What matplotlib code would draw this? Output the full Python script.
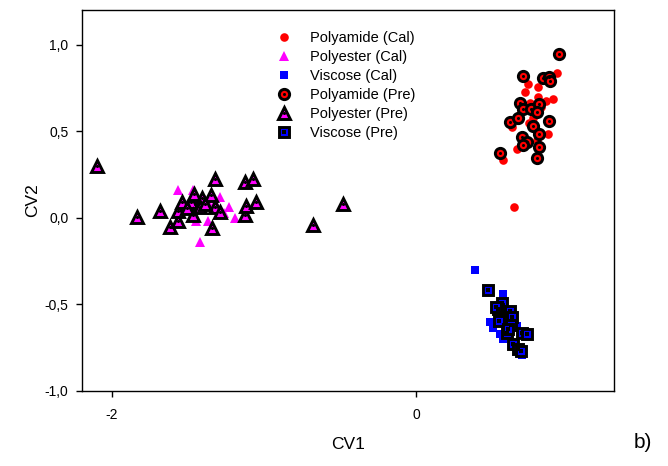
import matplotlib.pyplot as plt
from matplotlib.legend_handler import HandlerTuple
from matplotlib.ticker import FuncFormatter

plt.rcParams['font.family'] = ['Liberation Sans', 'DejaVu Sans']

# calibration set
polyamide_cal_x = [0.930, 0.738, 0.805, 0.717, 0.805, 0.899, 0.855, 0.750, 0.630, 0.867,
                   0.662, 0.575, 0.647, 0.794, 0.772, 0.684, 0.743, 0.822]
polyamide_cal_y = [0.836, 0.774, 0.758, 0.726, 0.700, 0.687, 0.677, 0.667, 0.523, 0.484,
                   0.397, 0.337, 0.063, 0.449, 0.575, 0.60, 0.55, 0.64]
polyester_cal_x = [-1.566, -1.467, -1.290, -1.230, -1.191, -1.447, -1.418, -1.368, -1.359,
                   -1.516, -1.438, -1.319, -1.260]
polyester_cal_y = [0.16, 0.163, 0.12, 0.063, 0.0, -0.015, -0.14, -0.015, 0.08, 0.05,
                   0.10, 0.09, 0.03]
viscose_cal_x = [0.388, 0.487, 0.509, 0.553, 0.575, 0.695, 0.575, 0.662, 0.586, 0.645]
viscose_cal_y = [-0.299, -0.60, -0.633, -0.671, -0.70, -0.79, -0.44, -0.623, -0.56, -0.74]

# prediction set
polyamide_pre_x = [0.943, 0.706, 0.833, 0.878, 0.882, 0.684, 0.706, 0.754, 0.810, 0.794,
                   0.618, 0.673, 0.878, 0.772, 0.810, 0.700, 0.733, 0.702, 0.810, 0.553,
                   0.794]
polyamide_pre_y = [0.948, 0.822, 0.807, 0.813, 0.793, 0.666, 0.627, 0.627, 0.658, 0.613,
                   0.552, 0.575, 0.561, 0.530, 0.484, 0.469, 0.440, 0.420, 0.411, 0.378,
                   0.349]
polyester_pre_x = [-2.099, -1.837, -1.684, -1.615, -1.566, -1.566, -1.536, -1.477, -1.457,
                   -1.467, -1.408, -1.418, -1.349, -1.322, -1.319, -1.290, -1.339, -1.122,
                   -1.119, -1.122, -1.072, -1.053, -0.678, -0.480, -1.507, -1.388]
polyester_pre_y = [0.30, 0.005, 0.04, -0.05, -0.015, 0.043, 0.09, 0.09, 0.14, 0.02,
                   0.117, 0.063, 0.13, 0.227, 0.063, 0.034, -0.057, 0.02, 0.072, 0.21,
                   0.227, 0.092, -0.043, 0.082, 0.06, 0.08]
viscose_pre_x = [0.471, 0.564, 0.542, 0.618, 0.630, 0.546, 0.623, 0.596, 0.695, 0.733,
                 0.636, 0.673, 0.689, 0.526, 0.607]
viscose_pre_y = [-0.416, -0.492, -0.527, -0.536, -0.571, -0.594, -0.617, -0.662, -0.662,
                 -0.671, -0.729, -0.758, -0.768, -0.517, -0.643]

fig = plt.figure(figsize=(6.68, 4.66), dpi=100)
# box from x=82..614 px, y=10..391 px
ax = fig.add_axes([82 / 668, 1 - 391 / 466, 532 / 668, 381 / 466])

cal_ms = 6.2
pre_ms = 7.4
pre_ew = 2.1
dot_ms = 2.2

# calibration markers (plain)
h1, = ax.plot(polyamide_cal_x, polyamide_cal_y, 'o', color='#ff0000', ms=cal_ms, mew=0)
h2, = ax.plot(polyester_cal_x, polyester_cal_y, '^', color='#ff00ff', ms=cal_ms + 1.0, mew=0)
h3, = ax.plot(viscose_cal_x, viscose_cal_y, 's', color='#0000ff', ms=cal_ms - 0.3, mew=0)

# prediction markers (black rim + centre dot)
h4, = ax.plot(polyamide_pre_x, polyamide_pre_y, 'o', mfc='#ff0000', mec='black',
              ms=pre_ms, mew=pre_ew)
d4, = ax.plot(polyamide_pre_x, polyamide_pre_y, 'o', color='black', ms=dot_ms, mew=0)
h5, = ax.plot(polyester_pre_x, polyester_pre_y, '^', mfc='#ff00ff', mec='black',
              ms=pre_ms + 1.6, mew=pre_ew)
d5, = ax.plot(polyester_pre_x, polyester_pre_y, 'o', color='black', ms=dot_ms, mew=0)
h6, = ax.plot(viscose_pre_x, viscose_pre_y, 's', mfc='#0000ff', mec='black',
              ms=pre_ms - 0.2, mew=pre_ew)
d6, = ax.plot(viscose_pre_x, viscose_pre_y, 's', color='black', ms=dot_ms, mew=0)

ax.set_xlim(-2.197, 1.303)
ax.set_ylim(-1.0, 1.202)
ax.set_xticks([-2, 0])
ax.set_yticks([-1.0, -0.5, 0.0, 0.5, 1.0])
ax.xaxis.set_major_formatter(FuncFormatter(lambda v, p: '%d' % v))
ax.yaxis.set_major_formatter(FuncFormatter(lambda v, p: ('%.1f' % v).replace('.', ',')))
ax.tick_params(direction='out', length=4.3, width=1, labelsize=10, colors='black')
ax.tick_params(axis='y', pad=5.5)
ax.tick_params(axis='x', pad=8)
for s in ax.spines.values():
    s.set_linewidth(1.0)

ax.set_xlabel('CV1', fontsize=12.5, labelpad=11)
ax.set_ylabel('CV2', fontsize=12.5, labelpad=3)

ax.legend([h1, h2, h3, (h4, d4), (h5, d5), (h6, d6)],
          ['Polyamide (Cal)', 'Polyester (Cal)', 'Viscose (Cal)',
           'Polyamide (Pre)', 'Polyester (Pre)', 'Viscose (Pre)'],
          handler_map={tuple: HandlerTuple(ndivide=1, pad=0)},
          loc='upper left', bbox_to_anchor=(0.366, 0.945), frameon=False,
          fontsize=10.5, handlelength=1.0, handletextpad=1.28, labelspacing=0.34,
          borderpad=0, borderaxespad=0)

fig.text(0.962, 0.05, 'b)', fontsize=15, ha='center', va='center')

fig.savefig('out.png', dpi=100)
